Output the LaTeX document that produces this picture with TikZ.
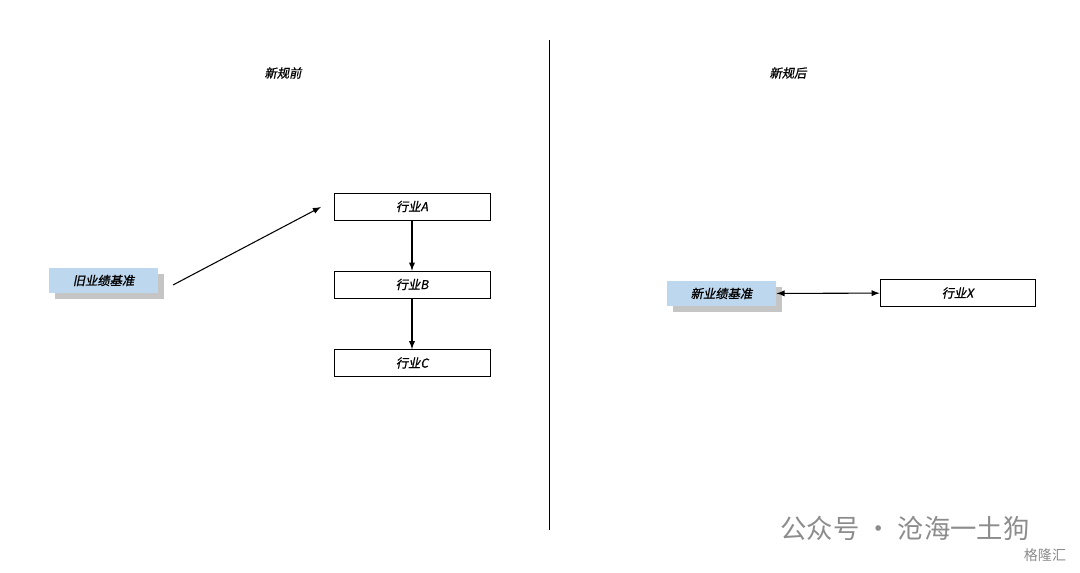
\documentclass[tikz,border=0pt]{standalone}
\usepackage{fontspec}
\setmainfont{Liberation Sans}
\newfontfamily\cjk[FakeSlant=0.2,FakeBold=1]{Noto Sans CJK SC}
\newfontfamily\cjkup{Noto Sans CJK SC}
\usetikzlibrary{arrows,shadows}

\begin{document}
\begin{tikzpicture}[x=0.02cm,y=-0.02cm,>=latex,semithick,
                    font=\cjk\fontsize{7}{8}\selectfont]
  \tikzstyle{industry}=[draw=black,fill=white,thin,minimum width=3.12cm,minimum height=0.54cm,inner sep=0pt]
  \tikzstyle{bench}=[fill={rgb,255:red,189;green,215;blue,238},
                     minimum width=2.18cm,minimum height=0.5cm,inner sep=0pt,
                     drop shadow={shadow xshift=0.12cm,shadow yshift=-0.12cm,fill=black!45}]
  \useasboundingbox (0,0) rectangle (1080,573);

  \node (t0) at (283,73) {新规前};
  \node (t1) at (788,73) {新规后};
  \coordinate (top) at (549,40);
  \coordinate (bot) at (549,530);
  \draw[thin] (top) -- (bot);

  \node[industry] (A) at (412,206.5) {行业A};
  \node[industry] (B) at (412,284.5) {行业B};
  \node[industry] (C) at (412,363)   {行业C};
  \node[bench]    (old) at (103.5,280.5) {旧业绩基准};
  \coordinate (s) at (173,285);
  \coordinate (e) at (321,207);

  \node[bench]    (new) at (721.5,293.5) {新业绩基准};
  \node[industry,minimum width=3.1cm] (X) at (957.5,293) {行业X};

  \draw[->] (s) -- (e);
  \draw[->] (A) -- (B);
  \draw[->] (B) -- (C);
  \draw[<->] (new) -- (X);

  \node[text=black!45,font=\cjkup\fontsize{15}{16}\selectfont] (wm) at (905,528) {公众号 · 沧海一土狗};
  \node[text=black!45,font=\cjkup\fontsize{8}{9}\selectfont] (wm2) at (1045,555) {格隆汇};
\end{tikzpicture}
\end{document}
